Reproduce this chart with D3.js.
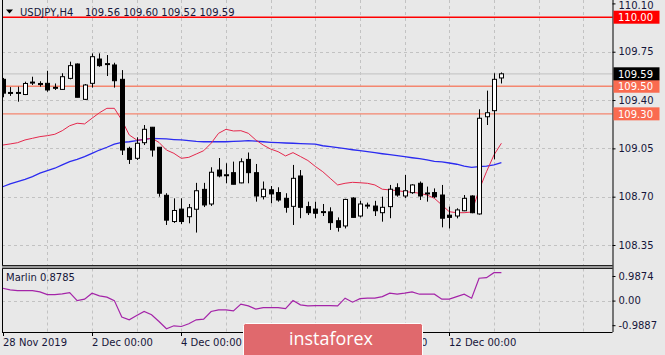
<!DOCTYPE html>
<html>
<head>
<meta charset="utf-8">
<script src="https://cdn.jsdelivr.net/npm/d3@7"></script>
<style>
  body { margin: 0; background: #e8e8e8; }
  svg { display: block; font-family: 'DejaVu Sans', sans-serif; font-size: 10px; }
</style>
</head>
<body>
<svg id="board"></svg>
<script>
// H4 candles, 28 Nov 2019 00:00 .. 13 Dec 2019 04:00
let opens  = [109.55,109.455,109.45,109.44,109.525,109.52,109.521,109.488,109.477,109.557,109.661,109.405,109.521,109.697,109.658,109.654,109.55,109.05,108.978,109.091,109.203,109.058,108.71,108.52,108.61,108.555,108.609,108.753,108.647,108.893,108.855,108.874,108.80,108.97,108.874,108.70,108.75,108.73,108.688,108.63,108.85,108.628,108.61,108.588,108.59,108.526,108.488,108.69,108.56,108.635,108.632,108.584,108.628,108.765,108.705,108.729,108.797,108.723,108.73,108.712,108.566,108.56,108.598,108.705,108.575,109.279,109.323,109.56]
let highs  = [109.56,109.494,109.497,109.533,109.569,109.536,109.612,109.52,109.594,109.678,109.665,109.516,109.738,109.738,109.726,109.67,109.617,109.062,109.13,109.219,109.205,109.06,108.725,108.688,108.688,108.647,108.80,108.80,108.913,108.98,108.942,108.954,108.978,109.02,108.937,108.81,108.777,108.768,108.725,108.93,108.893,108.664,108.664,108.647,108.623,108.55,108.685,108.696,108.67,108.657,108.67,108.70,108.785,108.797,108.857,108.79,108.81,108.773,108.76,108.785,108.628,108.616,108.712,108.71,109.333,109.468,109.594,109.60]
let lows   = [109.42,109.43,109.388,109.436,109.509,109.497,109.46,109.473,109.473,109.55,109.42,109.40,109.49,109.641,109.574,109.49,109.002,108.937,108.966,109.074,108.99,108.70,108.495,108.51,108.502,108.507,108.44,108.625,108.633,108.84,108.797,108.79,108.797,108.797,108.664,108.68,108.652,108.664,108.584,108.495,108.544,108.567,108.544,108.56,108.459,108.447,108.47,108.55,108.55,108.613,108.56,108.519,108.544,108.70,108.69,108.72,108.676,108.664,108.69,108.478,108.47,108.543,108.595,108.58,108.57,109.219,108.97,109.52]
let closes = [109.45,109.448,109.455,109.52,109.53,109.512,109.473,109.492,109.569,109.649,109.42,109.509,109.714,109.649,109.664,109.54,109.038,108.97,109.087,109.188,109.038,108.725,108.53,108.60,108.52,108.62,108.743,108.64,108.877,108.85,108.859,108.79,108.953,108.874,108.705,108.754,108.72,108.676,108.623,108.833,108.623,108.584,108.58,108.592,108.512,108.478,108.68,108.55,108.647,108.639,108.598,108.623,108.754,108.712,108.743,108.785,108.705,108.727,108.70,108.544,108.55,108.604,108.688,108.584,109.268,109.308,109.55,109.59]

// moving averages on the price chart
let redMa  = [109.074,109.082,109.091,109.111,109.123,109.135,109.142,109.152,109.178,109.214,109.232,109.227,109.268,109.308,109.34,109.34,109.255,109.147,109.111,109.111,109.125,109.093,109.038,109.014,108.978,108.985,109.009,109.033,109.087,109.159,109.188,109.176,109.178,109.159,109.111,109.074,109.045,109.026,108.995,109.019,108.991,108.962,108.919,108.881,108.833,108.785,108.797,108.804,108.801,108.797,108.785,108.754,108.749,108.744,108.736,108.732,108.725,108.712,108.688,108.64,108.591,108.584,108.584,108.589,108.749,108.881,109.002,109.087]
let blueMa = [108.772,108.792,108.809,108.826,108.845,108.87,108.888,108.906,108.93,108.954,108.971,108.99,109.014,109.038,109.058,109.08,109.094,109.098,109.106,109.116,109.123,109.12,109.118,109.114,109.111,109.106,109.101,109.098,109.098,109.098,109.098,109.101,109.103,109.106,109.103,109.098,109.094,109.091,109.089,109.087,109.084,109.082,109.08,109.069,109.062,109.055,109.048,109.04,109.033,109.026,109.019,109.011,109.004,108.997,108.99,108.982,108.975,108.966,108.956,108.952,108.944,108.935,108.922,108.913,108.917,108.922,108.93,108.946]

// Marlin oscillator
let marlin = [0.496,0.428,0.40,0.40,0.40,0.348,0.24,0.24,0.268,0.32,0,0.056,0.296,0.188,0.136,0,-0.664,-0.772,-0.60,-0.44,-0.572,-0.84,-1.132,-1.012,-1.04,-0.932,-0.772,-0.744,-0.44,-0.372,-0.372,-0.412,-0.144,-0.212,-0.344,-0.28,-0.28,-0.28,-0.32,0,-0.172,-0.212,-0.20,-0.20,-0.20,-0.212,0.096,-0.064,0.08,0.096,0.096,0.16,0.296,0.256,0.296,0.348,0.256,0.256,0.256,0.056,0.056,0.16,0.256,0.096,0.896,0.92,1.12,1.12]

let priceTicks = [108.35, 108.70, 109.05, 109.40, 109.75, 110.10]
let marlinTicks = [0.9874, 0, -0.9887]
let marlinTickLabels = ['0.9874', '0.00', '-0.9887']
let timeBars = [0, 12, 24, 36, 48, 60]
let timeLabels = ['28 Nov 2019', '2 Dec 00:00', '4 Dec 00:00', '6 Dec 00:00', '10 Dec 00:00', '12 Dec 00:00']
let levels = [110.00, 109.50, 109.30]
let levelColors = ['#ff0000', '#f4866f', '#f4866f']
let levelBoxColors = ['#ff0000', '#fa6b50', '#fa6b50']
let lastPrice = 109.59
let title = 'USDJPY,H4'
let titleValues = '109.56 109.60 109.52 109.59'
let marlinLabel = 'Marlin 0.8785'

let width = 665
let height = 355
let plotLeft = 2
let plotRight = 612.5
let mainBottom = 265.5
let subTop = 268.5
let subBottom = 332
let textColor = '#16163a'

let board = d3.select('#board')
              .attr('width', width)
              .attr('height', height)

let xScale = d3.scaleLinear()
               .domain([0, 67])
               .range([2.7, 501.4])

let yScale = d3.scaleLinear()
               .domain([108.35, 110.10])
               .range([245, 3.4])

let mScale = d3.scaleLinear()
               .domain([-0.9887, 0.9874])
               .range([325.2, 276])

let bars = d3.range(opens.length).map((i) => {
    return { i: i, o: opens[i], h: highs[i], l: lows[i], c: closes[i] }
})

let makeGrid = () => {
    let vBars = d3.range(6, 79, 6)
    board.append('g').selectAll('line')
        .data(vBars)
        .enter()
        .append('line')
        .attr('x1', (d) => Math.round(xScale(d)) + 0.5)
        .attr('x2', (d) => Math.round(xScale(d)) + 0.5)
        .attr('y1', 0)
        .attr('y2', mainBottom)
        .attr('stroke', '#c2c2c2')
        .attr('stroke-dasharray', '3,3')
    board.append('g').selectAll('line')
        .data(vBars)
        .enter()
        .append('line')
        .attr('x1', (d) => Math.round(xScale(d)) + 0.5)
        .attr('x2', (d) => Math.round(xScale(d)) + 0.5)
        .attr('y1', subTop)
        .attr('y2', subBottom)
        .attr('stroke', '#c2c2c2')
        .attr('stroke-dasharray', '3,3')

    board.append('g').selectAll('line')
        .data(priceTicks.slice(0, 5))
        .enter()
        .append('line')
        .attr('x1', plotLeft)
        .attr('x2', plotRight)
        .attr('y1', (d) => Math.round(yScale(d)) + 0.5)
        .attr('y2', (d) => Math.round(yScale(d)) + 0.5)
        .attr('stroke', '#c2c2c2')
        .attr('stroke-dasharray', '3,3')

    board.append('line')
        .attr('x1', plotLeft)
        .attr('x2', plotRight)
        .attr('y1', Math.round(mScale(0)) + 0.5)
        .attr('y2', Math.round(mScale(0)) + 0.5)
        .attr('stroke', '#c2c2c2')
        .attr('stroke-dasharray', '3,3')
}

let makeLevels = () => {
    // bid line
    board.append('line')
        .attr('x1', plotLeft)
        .attr('x2', plotRight)
        .attr('y1', yScale(lastPrice))
        .attr('y2', yScale(lastPrice))
        .attr('stroke', '#c8c8c8')
        .attr('stroke-width', 1.2)

    board.append('g').selectAll('line')
        .data(levels)
        .enter()
        .append('line')
        .attr('x1', plotLeft)
        .attr('x2', plotRight)
        .attr('y1', (d) => yScale(d))
        .attr('y2', (d) => yScale(d))
        .attr('stroke', (d, i) => levelColors[i])
        .attr('stroke-width', 1.4)
}

let makeLines = () => {
    let line = (arr) => d3.line()
        .x((d, i) => xScale(i))
        .y((d) => yScale(d))(arr)

    board.append('path')
        .attr('d', line(blueMa))
        .attr('fill', 'none')
        .attr('stroke', '#2b2bf0')
        .attr('stroke-width', 1.3)

    board.append('path')
        .attr('d', line(redMa))
        .attr('fill', 'none')
        .attr('stroke', '#e5284d')
        .attr('stroke-width', 1)
}

let makeCandles = () => {
    let g = board.append('g')
        .attr('clip-path', 'url(#mainClip)')

    g.selectAll('line.wick')
        .data(bars)
        .enter()
        .append('line')
        .attr('class', 'wick')
        .attr('x1', (d) => Math.round(xScale(d.i)) + 0.5)
        .attr('x2', (d) => Math.round(xScale(d.i)) + 0.5)
        .attr('y1', (d) => yScale(d.h))
        .attr('y2', (d) => yScale(d.l))
        .attr('stroke', '#000')

    g.selectAll('rect.body')
        .data(bars)
        .enter()
        .append('rect')
        .attr('class', 'body')
        .attr('x', (d) => Math.round(xScale(d.i)) - 1.5)
        .attr('width', 4)
        .attr('y', (d) => yScale(Math.max(d.o, d.c)))
        .attr('height', (d) => Math.max(1, Math.abs(yScale(d.o) - yScale(d.c))))
        .attr('fill', (d) => d.c >= d.o ? '#fff' : '#000')
        .attr('stroke', '#000')
}

let makeMarlin = () => {
    let line = d3.line()
        .x((d, i) => xScale(i))
        .y((d) => mScale(d))

    board.append('path')
        .attr('d', line(marlin))
        .attr('fill', 'none')
        .attr('stroke', '#a424a8')
        .attr('stroke-width', 1.2)

    board.append('text')
        .attr('x', 6)
        .attr('y', 281)
        .attr('fill', textColor)
        .text(marlinLabel)
}

let makeFrames = () => {
    board.append('line')
        .attr('x1', plotLeft + 0.5).attr('x2', plotLeft + 0.5)
        .attr('y1', 0).attr('y2', subBottom)
        .attr('stroke', '#000')
    board.append('rect')
        .attr('x', plotLeft).attr('y', mainBottom)
        .attr('width', plotRight - plotLeft).attr('height', subTop - mainBottom)
        .attr('fill', '#9a9a9a')
    board.append('line')
        .attr('x1', plotLeft).attr('x2', plotRight)
        .attr('y1', mainBottom).attr('y2', mainBottom)
        .attr('stroke', '#222')
    board.append('line')
        .attr('x1', plotLeft).attr('x2', plotRight)
        .attr('y1', subTop).attr('y2', subTop)
        .attr('stroke', '#222')
    board.append('line')
        .attr('x1', plotLeft).attr('x2', plotRight)
        .attr('y1', subBottom + 0.5).attr('y2', subBottom + 0.5)
        .attr('stroke', '#000')
}

let makeAxes = () => {
    let yAxis = d3.axisRight(yScale)
        .tickValues(priceTicks)
        .tickSize(3)
        .tickPadding(3)
        .tickFormat(d3.format('.2f'))
    let ya = board.append('g')
        .attr('transform', 'translate(' + plotRight + ',0)')
        .call(yAxis)
    ya.select('.domain').attr('d', 'M0.5,0V' + subBottom).attr('stroke', '#000')
    // keep the top label inside the picture
    ya.selectAll('.tick text')
        .filter((d) => d === 110.10)
        .attr('dy', '0.32em')
        .attr('y', 2)

    let mAxis = d3.axisRight(mScale)
        .tickValues(marlinTicks)
        .tickSize(3)
        .tickPadding(3)
        .tickFormat((d, i) => marlinTickLabels[i])
    let ma = board.append('g')
        .attr('transform', 'translate(' + plotRight + ',0)')
        .call(mAxis)
    ma.select('.domain').remove()

    let xa = board.append('g')
    xa.selectAll('line')
        .data(timeBars)
        .enter()
        .append('line')
        .attr('x1', (d) => Math.round(xScale(d)) + 0.5)
        .attr('x2', (d) => Math.round(xScale(d)) + 0.5)
        .attr('y1', subBottom)
        .attr('y2', subBottom + 4)
        .attr('stroke', '#000')
    xa.selectAll('text')
        .data(timeBars)
        .enter()
        .append('text')
        .attr('x', (d) => Math.max(3, Math.round(xScale(d))))
        .attr('y', 346)
        .attr('fill', textColor)
        .text((d, i) => timeLabels[i])

    board.selectAll('.tick text')
        .attr('fill', textColor)
        .attr('font-family', "'DejaVu Sans', sans-serif")
        .attr('font-size', 10)
    board.selectAll('.tick line').attr('stroke', '#000')
}

let makeBoxes = () => {
    let boxes = levels.map((d, i) => ({ v: d, fill: levelBoxColors[i], text: d3.format('.2f')(d) }))
    boxes.push({ v: lastPrice, fill: '#000', text: d3.format('.2f')(lastPrice) })
    let g = board.append('g')
    g.selectAll('rect')
        .data(boxes)
        .enter()
        .append('rect')
        .attr('x', plotRight + 1)
        .attr('y', (d) => yScale(d.v) - 6.5)
        .attr('width', 46)
        .attr('height', 13)
        .attr('fill', (d) => d.fill)
    g.selectAll('text')
        .data(boxes)
        .enter()
        .append('text')
        .attr('x', 618)
        .attr('y', (d) => yScale(d.v) + 4)
        .attr('fill', '#fff')
        .text((d) => d.text)
}

let makeTitle = () => {
    board.append('path')
        .attr('d', 'M6,9.5 L13,9.5 L9.5,13.5 Z')
        .attr('fill', '#000')
    board.append('text')
        .attr('x', 20)
        .attr('y', 16)
        .attr('fill', textColor)
        .text(title)
    board.append('text')
        .attr('x', 85)
        .attr('y', 16)
        .attr('fill', textColor)
        .text(titleValues)
}

let makeLogo = () => {
    board.append('rect')
        .attr('x', 243.5)
        .attr('y', 323.5)
        .attr('width', 179)
        .attr('height', 40)
        .attr('rx', 2)
        .attr('fill', '#e0696d')
        .attr('stroke', '#fff')
    board.append('text')
        .attr('x', 289)
        .attr('y', 345)
        .attr('fill', '#fff')
        .attr('font-family', "'Open Sans', sans-serif")
        .attr('font-size', 19)
        .attr('textLength', 84)
        .attr('lengthAdjust', 'spacingAndGlyphs')
        .text('instaforex')
}

board.append('defs').append('clipPath')
    .attr('id', 'mainClip')
    .append('rect')
    .attr('x', plotLeft + 1).attr('y', 0)
    .attr('width', plotRight - plotLeft - 1).attr('height', mainBottom)

makeGrid()
makeLevels()
makeLines()
makeCandles()
makeMarlin()
makeFrames()
makeAxes()
makeBoxes()
makeTitle()
makeLogo()
</script>
</body>
</html>
